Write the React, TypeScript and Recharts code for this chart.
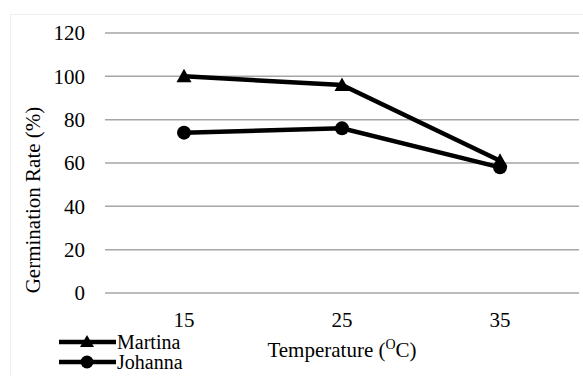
import React from 'react';
import { LineChart, Line, XAxis, YAxis, CartesianGrid, Legend } from 'recharts';

const categories = ['15', '25', '35'];
const seriesNames = ['Martina', 'Johanna'];
const martina = [100, 96, 61];
const johanna = [74, 76, 58];
const yTicks = [0, 20, 40, 60, 80, 100, 120];

const data = categories.map((c, i) => ({ temp: c, Martina: martina[i], Johanna: johanna[i] }));

const FONT = 'Liberation Serif, Times New Roman, serif';

const TriangleDot = (props: any) => {
  const { cx, cy } = props;
  if (cx == null || cy == null) return null;
  const s = 7.5;
  return <path d={`M${cx},${cy - s} L${cx + s},${cy + s * 0.8} L${cx - s},${cy + s * 0.8} Z`} fill="#000" />;
};

const CircleDot = (props: any) => {
  const { cx, cy } = props;
  if (cx == null || cy == null) return null;
  return <circle cx={cx} cy={cy} r={7} fill="#000" />;
};

const renderLegend = (props: any) => {
  const payload = [...(props.payload || [])].sort(
    (a: any, b: any) => seriesNames.indexOf(a.value) - seriesNames.indexOf(b.value)
  );
  return (
    <div style={{ display: 'flex', flexDirection: 'column' }}>
      {payload.map((entry: any) => (
        <div key={entry.value} style={{ display: 'flex', alignItems: 'center', height: 20, overflow: 'visible' }}>
          <svg width={57} height={20} style={{ display: 'block', flex: 'none' }}>
            <line x1={0} x2={57} y1={10} y2={10} stroke="#000" strokeWidth={4.5} />
            {entry.value === 'Martina' ? (
              <path d="M28,3 L35,15 L21,15 Z" fill="#000" />
            ) : (
              <circle cx={28} cy={10} r={6.5} fill="#000" />
            )}
          </svg>
          <span style={{ fontFamily: FONT, fontSize: 20, color: '#000', lineHeight: '20px', marginLeft: 1, whiteSpace: 'nowrap' }}>
            {entry.value}
          </span>
        </div>
      ))}
    </div>
  );
};

const YLabel = () => {
  const x = 33;
  const y = 200;
  return (
    <text
      x={x}
      y={y}
      transform={`rotate(-90 ${x} ${y})`}
      textAnchor="middle"
      dominantBaseline="central"
      fontFamily={FONT}
      fontSize={21}
      fill="#000"
    >
      Germination Rate (%)
    </text>
  );
};

const XLabel = (props: any) => {
  const vb = props.viewBox || { x: 105, width: 474 };
  const cx = vb.x + vb.width / 2;
  return (
    <text x={cx} y={357} textAnchor="middle" fontFamily={FONT} fontSize={21} fill="#000">
      Temperature (
      <tspan fontSize={14} dy={-8}>O</tspan>
      <tspan dy={8}>C)</tspan>
    </text>
  );
};

export default function App() {
  return (
    <div style={{ position: 'absolute', left: 0, top: 0, width: 583, height: 376, background: '#fff', overflow: 'hidden' }}>
      <div
        style={{
          position: 'absolute',
          left: 10,
          top: 14,
          width: 600,
          height: 400,
          border: '1px solid #efefef',
          boxSizing: 'border-box',
        }}
      />
      <div style={{ position: 'absolute', left: 0, top: 0 }}>
        <LineChart width={583} height={376} data={data} margin={{ top: 33, right: 4, bottom: 0, left: 0 }}>
          <CartesianGrid vertical={false} stroke="#a6a6a6" strokeWidth={1.5} />
          <XAxis
            dataKey="temp"
            height={83}
            padding={{ left: 79, right: 79 }}
            axisLine={false}
            tickLine={false}
            tickSize={0}
            tickMargin={19}
            tick={{ fontFamily: FONT, fontSize: 21, fill: '#000' }}
            label={<XLabel />}
          />
          <YAxis
            width={105}
            domain={[0, 120]}
            ticks={yTicks}
            axisLine={false}
            tickLine={false}
            tickSize={0}
            tickMargin={20}
            tick={{ fontFamily: FONT, fontSize: 21, fill: '#000' }}
            label={<YLabel />}
          />
          <Legend
            layout="horizontal"
            verticalAlign="middle"
            content={renderLegend}
            wrapperStyle={{ left: 59, top: 332, width: 200, height: 44 }}
          />
          <Line
            type="linear"
            dataKey="Martina"
            stroke="#000"
            strokeWidth={4.5}
            dot={<TriangleDot />}
            activeDot={false}
            isAnimationActive={false}
          />
          <Line
            type="linear"
            dataKey="Johanna"
            stroke="#000"
            strokeWidth={4.5}
            dot={<CircleDot />}
            activeDot={false}
            isAnimationActive={false}
          />
        </LineChart>
      </div>
    </div>
  );
}
